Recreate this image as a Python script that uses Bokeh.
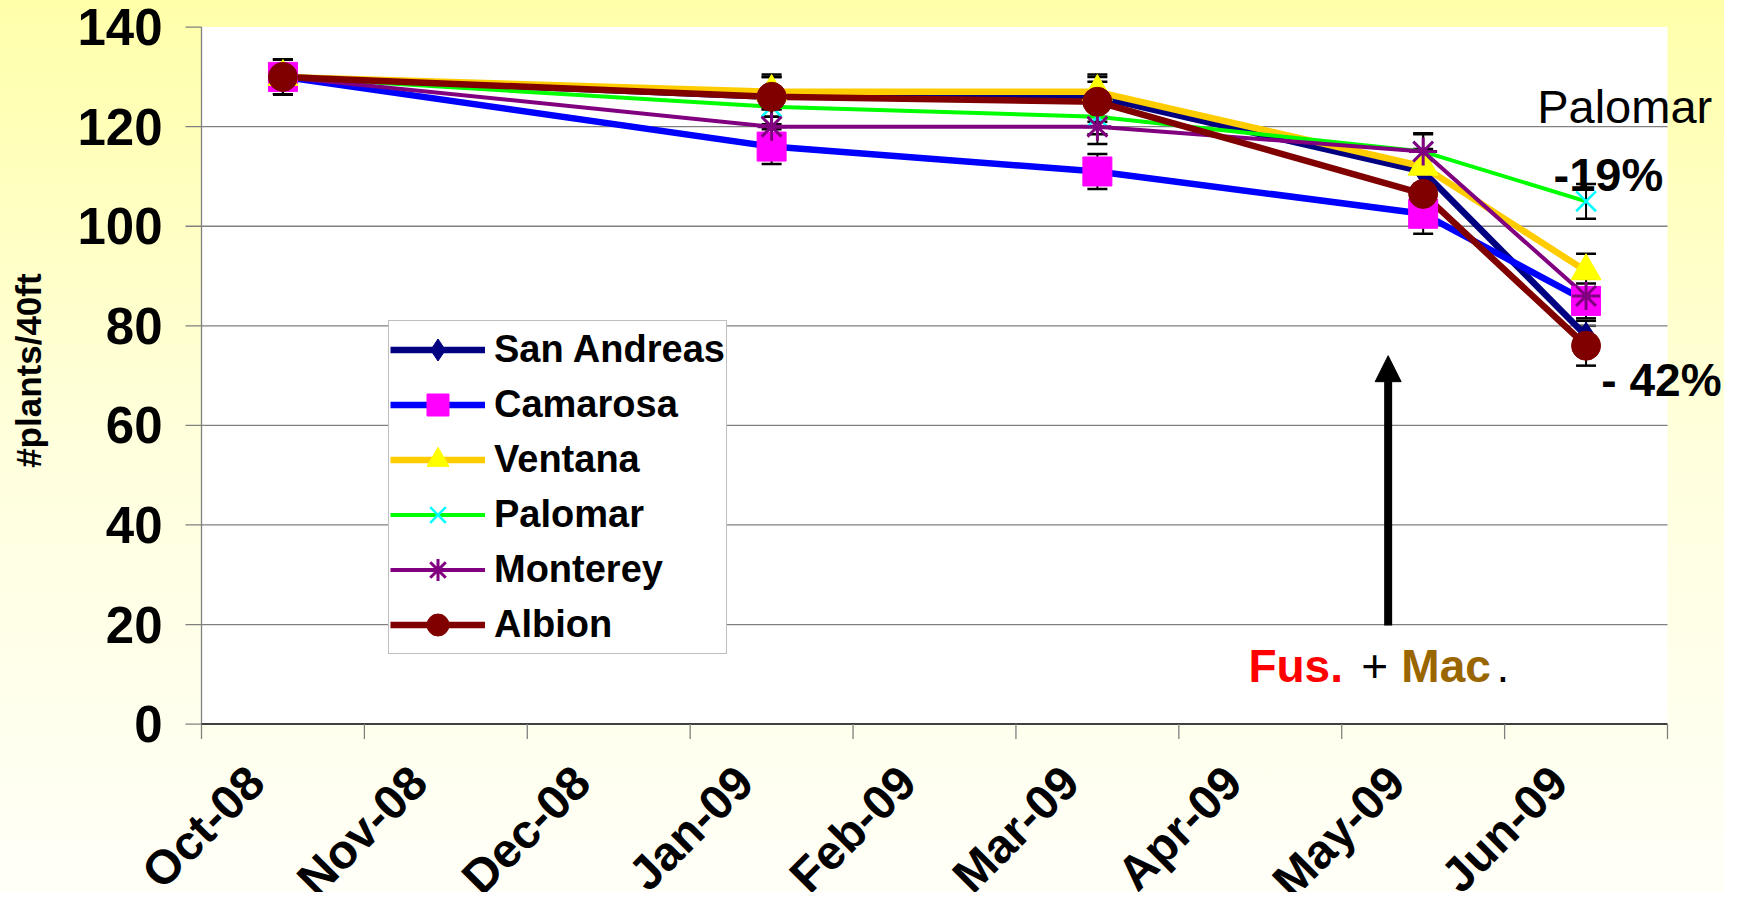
import math
from bokeh.plotting import figure
from bokeh.models import (Range1d, Legend, LegendItem, Whisker, TeeHead,
                          ColumnDataSource, Label, Arrow, NormalHead, BoxAnnotation)
from bokeh.core.properties import value
from bokeh.embed import file_html
from bokeh.resources import INLINE

# ---------------- data ----------------
months = ["Oct-08", "Nov-08", "Dec-08", "Jan-09", "Feb-09",
          "Mar-09", "Apr-09", "May-09", "Jun-09"]
sample_months = ["Oct-08", "Jan-09", "Mar-09", "May-09", "Jun-09"]
y_ticks = [0, 20, 40, 60, 80, 100, 120, 140]
y_title = "#plants/40ft"

series_names = ["San Andreas", "Camarosa", "Ventana", "Palomar", "Monterey", "Albion"]
san_andreas = [130, 126, 126, 111, 78]
camarosa = [130, 116, 111, 102.5, 85]
ventana = [130, 127, 127, 112, 91]
palomar = [130, 124, 122, 115, 105]
monterey = [130, 120, 120, 115, 86]
albion = [130, 126, 125, 106.5, 76]

err_san_andreas = [3.5, 4, 4, 4, 3]
err_camarosa = [3.5, 3.5, 3.5, 4, 3.5]
err_ventana = [3.5, 3.5, 3.5, 3.5, 3.5]
err_palomar = [3.5, 3.5, 3.5, 3.5, 3.5]
err_monterey = [3.5, 3.5, 3.5, 3.7, 3.5]
err_albion = [3.5, 4, 4, 4, 4]

values = [san_andreas, camarosa, ventana, palomar, monterey, albion]
errors = [err_san_andreas, err_camarosa, err_ventana, err_palomar, err_monterey, err_albion]

# ---------------- styles ----------------
line_colors = ["#000080", "#0000FF", "#FFCC00", "#00FF00", "#800080", "#800000"]
line_widths = [6.5, 6.5, 6.5, 4, 4, 6.5]
markers = ["diamond", "square", "triangle", "x", "asterisk", "circle"]
marker_fill = ["#000080", "#FF00FF", "#FFFF00", None, None, "#800000"]
marker_line = ["#000080", "#FF00FF", "#FFFF00", "#00FFFF", "#800080", "#800000"]
marker_lw = [1, 1, 1, 2.5, 3, 1]
marker_size = [27, 29, 30, 28, 28, 29]

FONT = "Liberation Sans"

W, H = 1724, 892
LEFT, TOP = 201, 26.6          # plot-area left / top (px)
AREA_RIGHT, AREA_BOTTOM = 1667, 723.6
n_m = len(months)
y_max = max(y_ticks)
PX_X = (AREA_RIGHT - LEFT) / n_m
PX_Y = (AREA_BOTTOM - TOP) / y_max

x_start = -LEFT / PX_X
x_end = n_m + (W - AREA_RIGHT) / PX_X
y_start = -(H - AREA_BOTTOM) / PX_Y
y_end = AREA_BOTTOM / PX_Y

xs = [months.index(m) + 0.5 for m in sample_months]

p = figure(width=W, height=H, output_backend="svg", toolbar_location=None,
           x_range=Range1d(x_start, x_end), y_range=Range1d(y_start, y_end),
           x_axis_location=None, y_axis_location=None,
           min_border_left=0, min_border_right=0, min_border_top=0,
           min_border_bottom=0)
p.background_fill_alpha = 0
p.border_fill_alpha = 0
p.styles = {"background": "linear-gradient(180deg, #FFFFAA 0%, #FFFFDD 50%, #FFFFF8 100%)"}
p.outline_line_color = None
p.xgrid.visible = False
p.ygrid.visible = False

# white plot area
p.add_layout(BoxAnnotation(left=0, right=n_m, bottom=0, top=y_max,
                           fill_color="white", fill_alpha=1, line_color=None,
                           level="image"))

# gridlines
gy = y_ticks[1:-1]
p.segment(x0=[0] * len(gy), x1=[n_m] * len(gy), y0=gy, y1=gy,
          line_color="#808080", line_width=1.3)

# ---- y axis (drawn through the plot's scales) ----
ny = len(y_ticks)
p.segment(x0=[0], x1=[0], y0=[0], y1=[y_max], line_color="#808080", line_width=1.3)
p.segment(x0=[-16 / PX_X] * ny, x1=[0] * ny, y0=y_ticks, y1=y_ticks,
          line_color="#808080", line_width=1.3)
p.text(x=[-39 / PX_X] * ny, y=y_ticks, text=[str(t) for t in y_ticks],
       text_font=value(FONT), text_font_style="bold", text_font_size="51px",
       text_align="right", text_baseline="middle", text_color="black")
p.text(x=[(28 - LEFT) / PX_X], y=[y_max / 2 + 1], text=[y_title], angle=math.pi / 2,
       text_font=value(FONT), text_font_style="bold", text_font_size="35px",
       text_align="center", text_baseline="middle", text_color="black")

# ---- x axis ----
bounds = list(range(n_m + 1))
p.segment(x0=[0], x1=[n_m], y0=[0], y1=[0], line_color="black", line_width=1.5)
tick_len = 15 / PX_Y
p.segment(x0=bounds, x1=bounds, y0=[0] * len(bounds), y1=[-tick_len] * len(bounds),
          line_color="#808080", line_width=1.3)
lab_x = [i + 0.5 - 27 / PX_X for i in range(n_m)]
lab_y = [-50 / PX_Y] * n_m
p.text(x=lab_x, y=lab_y, text=months, angle=math.pi / 4,
       text_font=value(FONT), text_font_style="bold", text_font_size="48px",
       text_align="right", text_baseline="alphabetic", text_color="black")

# error bars
ex, eu, el = [], [], []
for vals, errs in zip(values, errors):
    for x, v, e in zip(xs, vals, errs):
        ex.append(x)
        eu.append(v + e)
        el.append(v - e)
esrc = ColumnDataSource(dict(x=ex, upper=eu, lower=el))
p.add_layout(Whisker(source=esrc, base="x", upper="upper", lower="lower",
                     line_color="black", line_width=2,
                     upper_head=TeeHead(size=20, line_color="black", line_width=2.5),
                     lower_head=TeeHead(size=20, line_color="black", line_width=2.5)))

line_rs = []
for vals, c, w in zip(values, line_colors, line_widths):
    line_rs.append(p.line(xs, vals, line_color=c, line_width=w))

mark_rs = []
for vals, m, fc, lc, lw, s in zip(values, markers, marker_fill, marker_line, marker_lw, marker_size):
    mark_rs.append(p.scatter(xs, vals, marker=m, size=s, fill_color=fc, line_color=lc,
                             line_width=lw))

legend = Legend(items=[LegendItem(label=n, renderers=[lr, mr])
                       for n, lr, mr in zip(series_names, line_rs, mark_rs)],
                location=(388, 238))
legend.border_line_color = "#808080"
legend.border_line_width = 1.5
legend.background_fill_color = "white"
legend.background_fill_alpha = 1
legend.label_text_font = FONT
legend.label_text_font_style = "bold"
legend.label_text_font_size = "38px"
legend.label_text_color = "black"
legend.glyph_width = 95
legend.glyph_height = 55
legend.label_height = 55
legend.spacing = 0
legend.padding = 1
legend.label_standoff = 9
legend.margin = 0
p.add_layout(legend)

# annotations
p.add_layout(Arrow(x_start=7.285, y_start=19.8, x_end=7.285, y_end=74.0,
                   line_color="black", line_width=8,
                   end=NormalHead(size=26, fill_color="black", line_color="black")))

def lab(x, y, text, color="black", bold=True, size="46px"):
    p.add_layout(Label(x=x, y=y, text=text, text_color=color, text_font=FONT,
                       text_font_style="bold" if bold else "normal",
                       text_font_size=size, text_baseline="alphabetic",
                       text_align="left"))

lab(8.2, 124.1, "Palomar", bold=False, size="47px")
lab(8.30, 110.3, "-19%", size="47px")
lab(8.594, 69.2, "- 42%")
lab(6.427, 11.6, "Fus.", color="#FF0000")
lab(7.12, 11.6, "+", bold=False)
lab(7.366, 11.6, "Mac", color="#996600")
lab(7.95, 11.6, ".", bold=False)

open("out.html", "w").write(file_html(p, INLINE))
